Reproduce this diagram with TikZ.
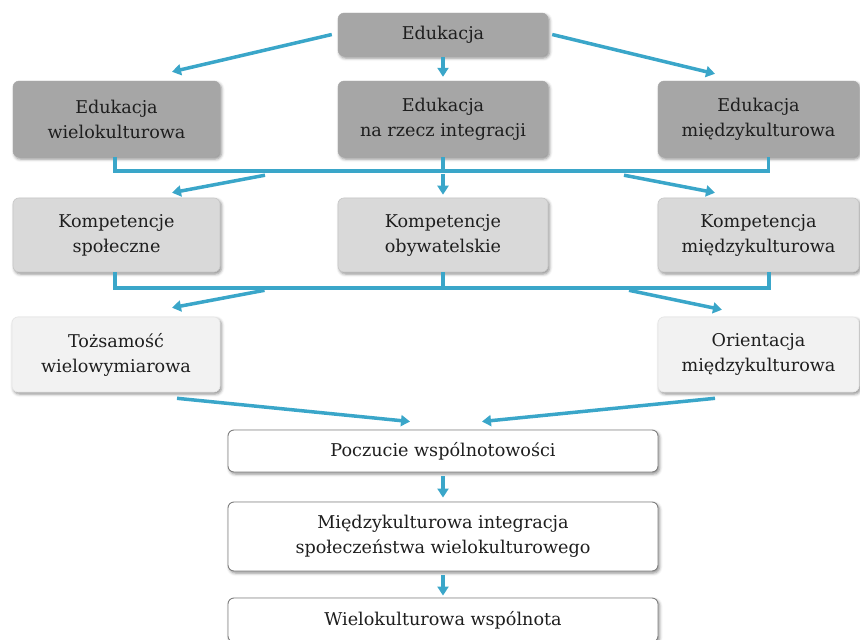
\documentclass[tikz,border=0pt]{standalone}
\usepackage{fontspec}
\setmainfont{DejaVu Serif}
\usetikzlibrary{arrows.meta,shadows.blur}

\definecolor{flowblue}{RGB}{58,166,201}
\definecolor{tierA}{HTML}{A6A6A6}
\definecolor{tierB}{HTML}{D9D9D9}
\definecolor{tierC}{HTML}{F2F2F2}
\definecolor{inkcol}{HTML}{1E1E1E}

\tikzset{
  box/.style={rectangle, rounded corners=6pt, align=center, text=inkcol,
    font=\fontsize{17.6}{25}\selectfont, inner sep=0pt,
    blur shadow={shadow xshift=1.5pt, shadow yshift=-2pt,
                 shadow blur radius=3pt, shadow opacity=45}},
  boxA/.style={box, fill=tierA, draw=tierA},
  boxB/.style={box, fill=tierB, draw=black!22, line width=0.6pt},
  boxC/.style={box, fill=tierC, draw=black!10, line width=0.6pt},
  boxW/.style={box, fill=white, draw=black!50, line width=0.9pt},
  link/.style={draw=flowblue, line width=3.5pt, line join=miter},
  arr/.style={link, -{Triangle[length=9pt,width=11pt]}},
}

\begin{document}
\begin{tikzpicture}[x=1pt,y=-1pt]
\useasboundingbox (0,0) rectangle (860,640);

% boxes
\node[boxA, minimum width=210pt, minimum height=43pt] (e0) at (443,34.5) {Edukacja};
\node[boxA, minimum width=207pt, minimum height=76pt] (e1) at (116.5,119) {Edukacja\\wielokulturowa};
\node[boxA, minimum width=210pt, minimum height=76pt] (e2) at (443,119) {Edukacja\\na rzecz integracji};
\node[boxA, minimum width=201pt, minimum height=76pt] (e3) at (758.5,119) {Edukacja\\międzykulturowa};

\node[boxB, minimum width=207pt, minimum height=74pt] (k1) at (116.5,235) {Kompetencje\\społeczne};
\node[boxB, minimum width=210pt, minimum height=74pt] (k2) at (443,235) {Kompetencje\\obywatelskie};
\node[boxB, minimum width=201pt, minimum height=74pt] (k3) at (758.5,235) {Kompetencja\\międzykulturowa};

\node[boxC, minimum width=208pt, minimum height=75pt] (t1) at (116,354.5) {Tożsamość\\wielowymiarowa};
\node[boxC, minimum width=201pt, minimum height=75pt] (o1) at (758.5,354.5) {Orientacja\\międzykulturowa};

\node[boxW, minimum width=430pt, minimum height=42pt] (p) at (443,451) {Poczucie wspólnotowości};
\node[boxW, minimum width=430pt, minimum height=69pt] (m) at (443,536.5) {Międzykulturowa integracja\\społeczeństwa wielokulturowego};
\node[boxW, minimum width=430pt, minimum height=44pt] (w) at (443,620) {Wielokulturowa wspólnota};

% first level: Edukacja to its three forms
\draw[arr] ([xshift=-6pt]e0.west) -- ([xshift=55.5pt,yshift=9pt]e1.north);
\draw[arr, shorten <=1pt, shorten >=4pt] (e0.south) -- (e2.north);
\draw[arr] ([xshift=4pt]e0.east) -- ([xshift=-43.5pt,yshift=7pt]e3.north);

% second level: bracket joining the three forms of education
\draw[link] ([xshift=-1.5pt]e1.south) |- ([xshift=10pt,yshift=-14pt]e3.south) -- ([xshift=10pt]e3.south);
\draw[link] (e2.south) -- ([yshift=-14pt]e2.south);
\draw[arr] ([xshift=148.5pt,yshift=-18pt]e1.south) -- ([xshift=55.5pt,yshift=5pt]k1.north);
\draw[arr, shorten >=3pt] ([yshift=-17pt]e2.south) -- (k2.north);
\draw[arr] ([xshift=-134.5pt,yshift=-18pt]e3.south) -- ([xshift=-43.5pt,yshift=5pt]k3.north);

% third level: bracket joining the competences
\draw[link] ([xshift=-1.5pt]k1.south) |- ([xshift=10.5pt,yshift=-15.5pt]k3.south) -- ([xshift=10.5pt]k3.south);
\draw[link] (k2.south) -- ([yshift=-15.5pt]k2.south);
\draw[arr] ([xshift=148pt,yshift=-18pt]k1.south) -- ([xshift=56pt,yshift=9pt]t1.north);
\draw[arr] ([xshift=-129.5pt,yshift=-18pt]k3.south) -- ([xshift=-36.5pt,yshift=7pt]o1.north);

% converging on the sense of community
\draw[arr] ([xshift=61pt,yshift=-6pt]t1.south) -- ([xshift=-33pt,yshift=8pt]p.north);
\draw[arr] ([xshift=-43.5pt,yshift=-6pt]o1.south) -- ([xshift=39pt,yshift=8pt]p.north);

% vertical chain at the bottom
\draw[arr, shorten <=4pt, shorten >=4pt] (p.south) -- (m.north);
\draw[arr, shorten <=4pt, shorten >=2pt] (m.south) -- (w.north);
\end{tikzpicture}
\end{document}
